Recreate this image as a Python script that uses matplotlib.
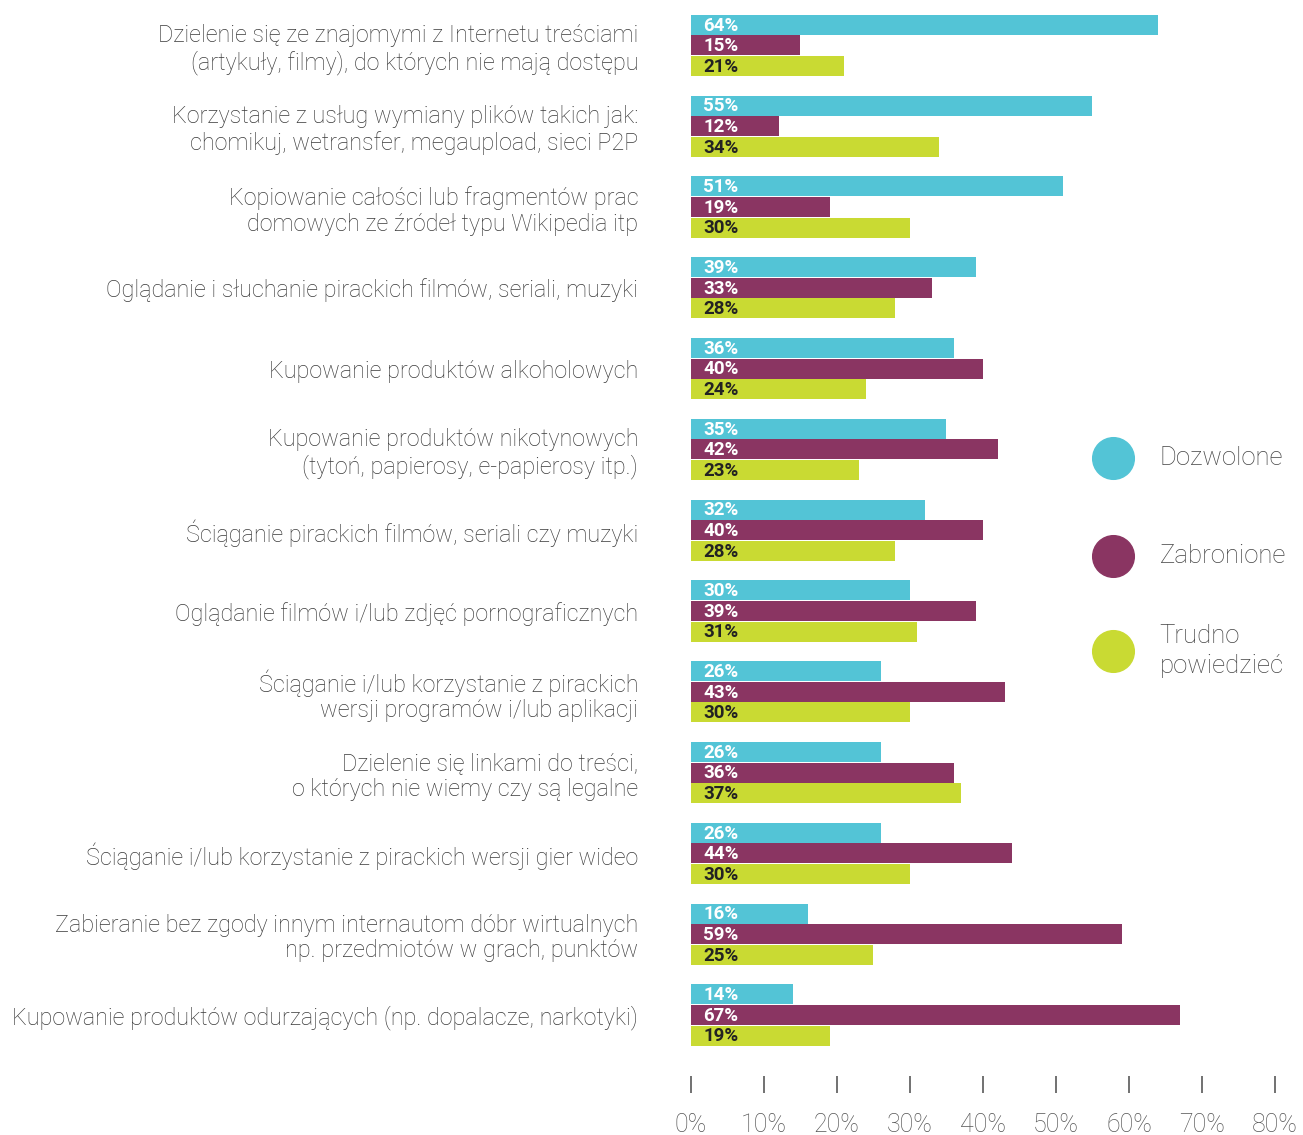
import matplotlib.pyplot as plt
import numpy as np

plt.rcParams['font.family'] = ['Roboto', 'DejaVu Sans']

# data
categories = [
    "Dzielenie się ze znajomymi z Internetu treściami\n(artykuły, filmy), do których nie mają dostępu",
    "Korzystanie z usług wymiany plików takich jak:\nchomikuj, wetransfer, megaupload, sieci P2P",
    "Kopiowanie całości lub fragmentów prac\ndomowych ze źródeł typu Wikipedia itp",
    "Oglądanie i słuchanie pirackich filmów, seriali, muzyki",
    "Kupowanie produktów alkoholowych",
    "Kupowanie produktów nikotynowych\n(tytoń, papierosy, e-papierosy itp.)",
    "Ściąganie pirackich filmów, seriali czy muzyki",
    "Oglądanie filmów i/lub zdjęć pornograficznych",
    "Ściąganie i/lub korzystanie z pirackich\nwersji programów i/lub aplikacji",
    "Dzielenie się linkami do treści,\no których nie wiemy czy są legalne",
    "Ściąganie i/lub korzystanie z pirackich wersji gier wideo",
    "Zabieranie bez zgody innym internautom dóbr wirtualnych\nnp. przedmiotów w grach, punktów",
    "Kupowanie produktów odurzających (np. dopalacze, narkotyki)",
]
dozwolone = [64, 55, 51, 39, 36, 35, 32, 30, 26, 26, 26, 16, 14]
zabronione = [15, 12, 19, 33, 40, 42, 40, 39, 43, 36, 44, 59, 67]
trudno = [21, 34, 30, 28, 24, 23, 28, 31, 30, 37, 30, 25, 19]

series_names = ["Dozwolone", "Zabronione", "Trudno\npowiedzieć"]
colors = ["#53c4d6", "#8a3562", "#c9da33"]
text_colors = ["white", "white", "#222222"]
ticks = [0, 10, 20, 30, 40, 50, 60, 70, 80]

fig = plt.figure(figsize=(13.03, 11.35), dpi=100)
ax = fig.add_axes([0.5303, 0.052, 0.4482, 0.948])

y = np.arange(len(categories))
h = 0.255
for k, vals in enumerate([dozwolone, zabronione, trudno]):
    pos = y + (k - 1) * h
    ax.barh(pos, vals, height=h * 0.97, color=colors[k])
    for p, v in zip(pos, vals):
        ax.text(1.7, p + 0.01, f"{v}%", va='center', ha='left', fontsize=13.5,
                fontweight='bold', color=text_colors[k])

ax.set_xlim(0, 80)
ax.set_ylim(12.754, -0.563)
for s in ax.spines.values():
    s.set_visible(False)

ax.set_yticks(y)
ax.set_yticklabels(categories, fontsize=16.8, color='#3a3a3a', fontweight='light')
for lbl in ax.get_yticklabels():
    lbl.set_linespacing(1.15)
ax.tick_params(axis='y', length=0, pad=38)

ax.set_xticks(ticks)
ax.set_xticklabels([f"{t}%" for t in ticks], fontsize=18, color='#555555',
                   fontweight='light')
ax.tick_params(axis='x', length=12, width=1.3, color='#666666', pad=15)

# legend drawn by hand on the right
leg_y = [0.5965, 0.5101, 0.4264]
for k in range(3):
    ax.plot([0.8542], [leg_y[k]], marker='o', markersize=30, color=colors[k],
            transform=fig.transFigure, clip_on=False)
    fig.text(0.890, leg_y[k], series_names[k], fontsize=18.5, color='#444444',
             va='center', ha='left', fontweight='light', linespacing=1.3)

fig.savefig("out.png", dpi=100, facecolor='white')
